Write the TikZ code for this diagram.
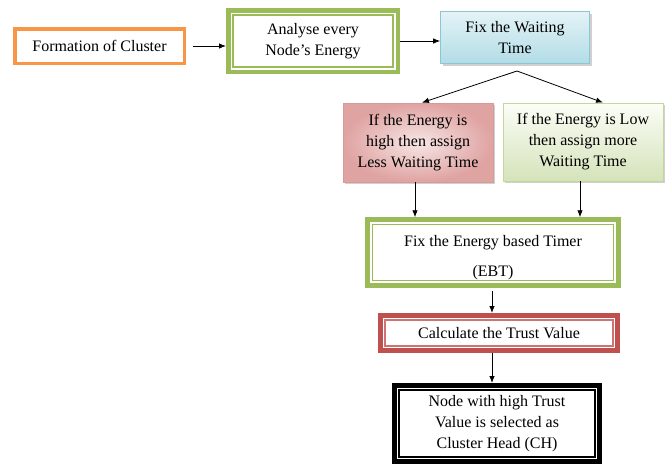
\documentclass[tikz,border=0pt]{standalone}
\usepackage{fontspec}
\setmainfont{Liberation Serif}
\usetikzlibrary{arrows.meta,shadows}
\definecolor{orangeB}{HTML}{F79646}
\definecolor{greenB}{HTML}{9BBB59}
\definecolor{redB}{HTML}{C0504D}
\definecolor{blueT}{HTML}{E4F3F7}
\definecolor{blueD}{HTML}{B2DCE6}
\definecolor{blueE}{HTML}{8CC6D6}
\definecolor{pinkL}{HTML}{F6E6E5}
\definecolor{pinkD}{HTML}{DFA3A2}
\definecolor{pinkE}{HTML}{D49B99}
\definecolor{greenL}{HTML}{FBFDF7}
\definecolor{greenD}{HTML}{D5E3BA}
\definecolor{greenE}{HTML}{C3D69B}
\tikzset{
  txt/.style={font=\fontsize{16}{21}\selectfont, align=center, inner sep=0pt},
  orangebox/.style={txt, draw=orangeB, line width=3.5pt, fill=white},
  dblbox/.style={txt, draw=#1, line width=4.5pt, fill=white},
  shadowbox/.style={txt, draw=#1, line width=0.8pt,
    drop shadow={shadow xshift=2pt, shadow yshift=-2pt, opacity=0.3, fill=black!60}},
  arr/.style={line width=0.8pt, -{Latex[length=7pt,width=5.5pt]}},
  innerline/.style={draw=#1, line width=1.3pt}
}
\newcommand\innerframe[2]{\draw[innerline=#2] ([shift={(7pt,-7pt)}]#1.north west) rectangle ([shift={(-7pt,7pt)}]#1.south east);}
\begin{document}
\begin{tikzpicture}[x=1pt,y=-1pt]
\path[use as bounding box, fill=white] (0,0) rectangle (668,466);

\node[orangebox, minimum width=169.5pt, minimum height=34.5pt] (form) at (99.5,46) {Formation of Cluster};

\node[dblbox=greenB, minimum width=169.5pt, minimum height=61.5pt] (anal) at (313,41) {Analyse every\\Node’s Energy};
\innerframe{anal}{greenB}

\node[shadowbox=blueE, top color=blueT, bottom color=blueD, minimum width=149pt, minimum height=52pt] (fix) at (515,37.5) {Fix the Waiting\\Time};

\node[shadowbox=pinkE, inner color=pinkL, outer color=pinkD, minimum width=150pt, minimum height=79pt] (high) at (418,142.5) {If the Energy is\\high then assign\\Less Waiting Time};

\node[shadowbox=greenE, top color=greenL, bottom color=greenD, minimum width=160pt, minimum height=78pt] (low) at (583,142) {If the Energy is Low\\then assign more\\Waiting Time};

\node[dblbox=greenB, font=\fontsize{16}{30}\selectfont, minimum width=251pt, minimum height=66pt] (ebt) at (493,252.5) {\rule{0pt}{21pt}Fix the Energy based Timer\\(EBT)};
\innerframe{ebt}{greenB}

\node[dblbox=redB, line width=5pt, minimum width=237pt, minimum height=35pt] (trust) at (499,333) {Calculate the Trust Value};
\innerframe{trust}{redB!80}

\node[dblbox=black, line width=5pt, minimum width=205pt, minimum height=76pt] (ch) at (497,423.5) {Node with high Trust\\Value is selected as\\Cluster Head (CH)};
\innerframe{ch}{black}

\coordinate (sp) at (517,71);

\draw[arr] ([xshift=7pt]form.east) -- (form.east -| anal.west);
\draw[arr] (anal.east) -- (anal.east -| fix.west);
\draw[arr] (sp) -- ([xshift=4pt]high.north);
\draw[arr] (sp) -- ([xshift=20pt]low.north);
\draw[arr] ([xshift=-3pt]high.south) -- ([xshift=-3pt]high.south |- ebt.north);
\draw[arr] ([xshift=-3pt]low.south) -- ([xshift=-3pt]low.south |- ebt.north);
\draw[arr] ([xshift=-1pt,yshift=-3pt]ebt.south) -- ([xshift=-1pt]ebt.south |- trust.north);
\draw[arr] ([xshift=-7pt]trust.south) -- ([xshift=-7pt]trust.south |- ch.north);
\end{tikzpicture}
\end{document}
